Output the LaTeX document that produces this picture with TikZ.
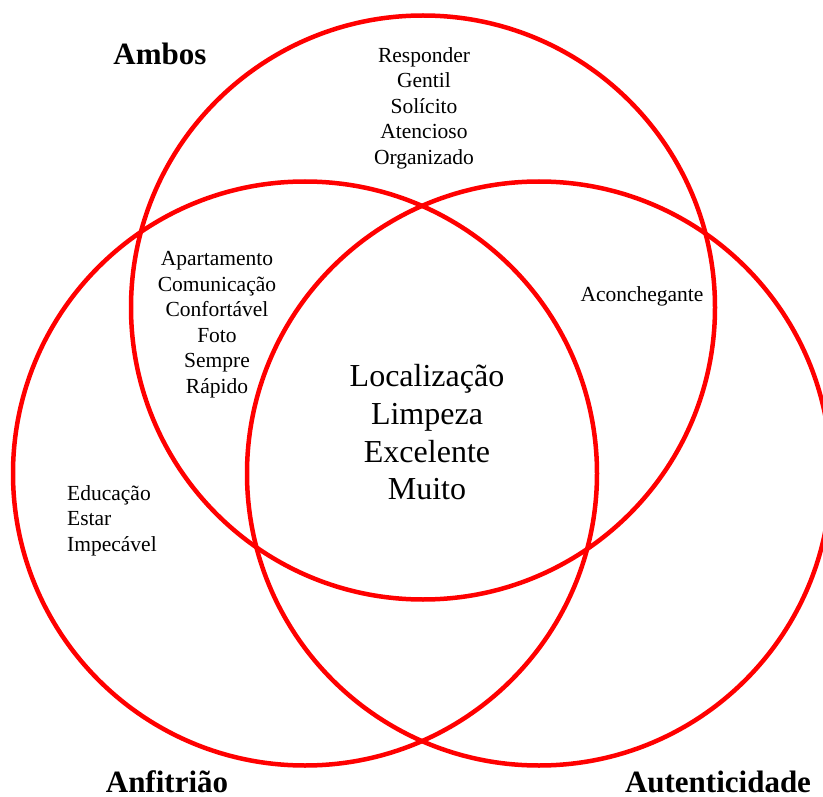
\documentclass[tikz,border=0pt]{standalone}
\usepackage{fontspec}
\setmainfont{Liberation Serif}
\definecolor{vennred}{RGB}{255,0,0}
\tikzset{
  ring/.style={draw=vennred, line width=4.5pt},
  smalltxt/.style={inner sep=0pt, align=center, font=\fontsize{21.5}{25.5}\selectfont},
  bigtxt/.style={inner sep=0pt, align=center, font=\fontsize{32}{37.7}\selectfont},
  settitle/.style={inner sep=0pt, font=\fontsize{31}{36}\selectfont\bfseries},
}
\begin{document}
\begin{tikzpicture}[x=1pt, y=-1pt]
  \useasboundingbox (0,0) rectangle (823,797);
  % circle centres
  \coordinate (cTop) at (423,307.5);
  \coordinate (cLeft) at (305,473.5);
  \coordinate (cRight) at (539,473.5);
  \begin{scope}
    \clip (0,0) rectangle (823,797);
    \draw[ring] (cTop) circle (292);
    \draw[ring] (cLeft) circle (292);
    \draw[ring] (cRight) circle (292);
  \end{scope}
  % set titles
  \node[settitle] (ambos) at (160,54) {Ambos};
  \node[settitle] (anfitriao) at (167,782) {Anfitrião};
  \node[settitle] (autent) at (718,782) {Autenticidade};
  % region contents
  \node[smalltxt] (topOnly) at (424,108) {Responder\\Gentil\\Solícito\\Atencioso\\Organizado};
  \node[smalltxt] (topLeft) at (217,324.5) {Apartamento\\Comunicação\\Confortável\\Foto\\Sempre\\Rápido};
  \node[smalltxt] (topRight) at (642,296) {Aconchegante};
  \node[smalltxt, align=left, anchor=west] (leftOnly) at (67,520.5) {Educação\\Estar\\Impecável};
  \node[bigtxt] (center) at (427,432.5) {Localização\\Limpeza\\Excelente\\Muito};
\end{tikzpicture}
\end{document}
